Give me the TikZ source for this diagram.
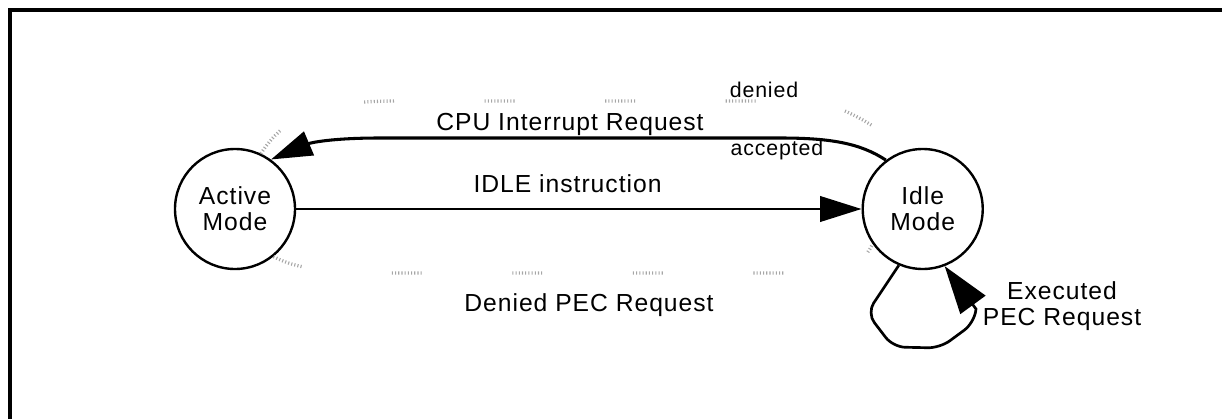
\documentclass[tikz,border=0pt]{standalone}
\usepackage{fontspec}
\usetikzlibrary{arrows.meta,positioning}
\newfontfamily\lblfam{Liberation Sans}[LetterSpace=4]
\newcommand\lblfont{\lblfam\fontsize{18.5}{19.5}\selectfont}
\newcommand\smalllblfont{\lblfam\fontsize{16}{18}\selectfont}

\begin{document}
\begin{tikzpicture}[
    x=0.75pt, y=0.75pt,
    modestate/.style={draw, circle, line width=1.8pt, minimum size=90pt, inner sep=0pt, align=center, font=\lblfont},
    link/.style={-{Triangle[length=31pt,width=19pt]}, line width=2pt},
    ghost/.style={gray!70, line width=2.5pt, dash pattern=on 0.8pt off 1.6pt on 0.8pt off 1.6pt on 0.8pt off 1.6pt on 0.8pt off 1.6pt on 0.8pt off 1.6pt on 0.8pt off 1.6pt on 0.8pt off 1.6pt on 0.8pt off 1.6pt on 0.8pt off 1.6pt on 0.8pt off 68pt},
    lbl/.style={font=\lblfont, text=black, anchor=base},
    smalllbl/.style={font=\smalllblfont, text=black, anchor=base}
]
\useasboundingbox (0,0) rectangle (1222,419);
\draw[line width=2.4pt] (10,0) -- (10,409) -- (1222,409);

\node[modestate] (active) at (235,210) {Active\\Mode};
\node[modestate, right=424pt of active] (idle) {Idle\\Mode};

% idle instruction
\draw[link] (active) -- node[lbl, pos=0.48, yshift=12.75pt] (idlelbl) {IDLE instruction} (idle);

% interrupt request, accepted
\draw[link, line width=2.3pt] (idle.127) .. controls (860,276) and (830,281) .. (780,281)
    -- node[lbl, pos=0.525, yshift=6pt] (cpulbl) {CPU Interrupt Request}
       node[smalllbl, pos=0.0075, yshift=-12.75pt] (acclbl) {accepted}
    (380,281) .. controls (330,281) and (310,276) .. (active.54);

% denied branches
\draw[ghost] (active.65) .. controls (290,310) and (330,318) .. (400,318)
    -- node[smalllbl, pos=0.91, yshift=3pt] (denlbl) {denied}
    (800,318) .. controls (840,316) and (865,300) .. (idle.105);
\draw[ghost] (active.-51) .. controls (300,148) and (340,146) .. (400,146)
    -- node[lbl, pos=0.4725, yshift=-28.5pt] (pecdenlbl) {Denied PEC Request}
    (800,146) .. controls (840,146) and (860,150) .. (idle.215);

% executed PEC request
\draw[link, -{Triangle[length=36pt,width=23pt]}] (idle.247) [rounded corners=9pt] -- (867,106) -- (893,72) -- (940,71) -- (974,96)
    [sharp corners] -- (976,110) -- (idle.291);
\node[font=\lblfont, align=center] (peclbl) at (1062,113) {Executed\\PEC Request};
\end{tikzpicture}
\end{document}
